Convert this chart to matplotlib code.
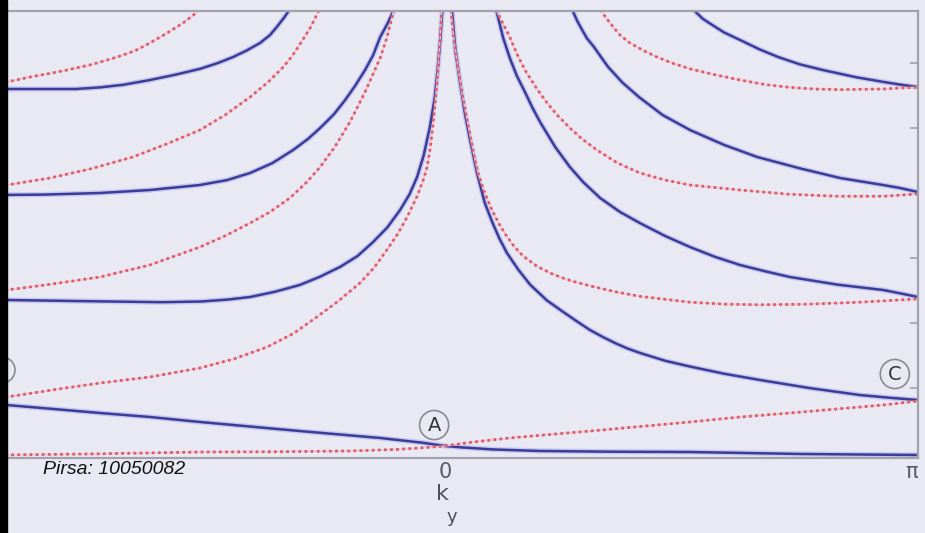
import matplotlib.pyplot as plt
from matplotlib.patches import Rectangle, Circle

# k_y in units of pi, energy in units of the right-hand tick spacing
blue_b0_k = [-0.95, -0.926, -0.729, -0.624, -0.518, -0.307, -0.137, -0.05, 0.0, 0.032, 0.1, 0.201, 0.35, 0.518, 0.751, 1.0]
blue_b0_e = [0.76, 0.738, 0.615, 0.554, 0.477, 0.338, 0.231, 0.16, 0.108, 0.088, 0.055, 0.031, 0.02, 0.015, -0.015, -0.031]

blue_l1_k = [-0.95, -0.85, -0.78, -0.729, -0.68, -0.624, -0.57, -0.518, -0.48, -0.448, -0.42, -0.391, -0.37, -0.355, -0.34, -0.332, -0.323]
blue_l1_e = [5.60, 5.60, 5.60, 5.625, 5.665, 5.738, 5.82, 5.91, 6.0, 6.092, 6.19, 6.308, 6.43, 6.56, 6.70, 6.785, 6.908]

blue_l2_k = [-0.95, -0.85, -0.729, -0.624, -0.518, -0.46, -0.412, -0.365, -0.321, -0.29, -0.264, -0.235, -0.211, -0.19, -0.169, -0.152, -0.137, -0.122, -0.110, -0.104]
blue_l2_e = [3.969, 3.975, 4.0, 4.046, 4.123, 4.20, 4.308, 4.46, 4.662, 4.83, 5.0, 5.21, 5.431, 5.65, 5.892, 6.12, 6.4, 6.6, 6.785, 6.908]

blue_l3_k = [-0.95, -0.926, -0.80, -0.70, -0.60, -0.518, -0.46, -0.412, -0.36, -0.307, -0.265, -0.222, -0.185, -0.152, -0.122, -0.095, -0.075, -0.059, -0.045, -0.032, -0.022, -0.015, -0.010, -0.006, -0.005]
blue_l3_e = [2.36, 2.354, 2.34, 2.33, 2.32, 2.33, 2.36, 2.40, 2.48, 2.585, 2.71, 2.862, 3.03, 3.246, 3.47, 3.738, 3.98, 4.246, 4.58, 5.015, 5.45, 5.938, 6.35, 6.785, 6.908]

blue_r1_k = [0.013, 0.015, 0.022, 0.032, 0.042, 0.053, 0.068, 0.084, 0.10, 0.115, 0.131, 0.155, 0.18, 0.215, 0.25, 0.28, 0.307, 0.335, 0.36, 0.385, 0.412, 0.465, 0.518, 0.59, 0.666, 0.77, 0.877, 0.94, 1.0]
blue_r1_e = [6.908, 6.785, 6.2, 5.69, 5.23, 4.815, 4.3, 3.85, 3.55, 3.3, 3.077, 2.82, 2.59, 2.35, 2.17, 2.02, 1.89, 1.78, 1.69, 1.61, 1.54, 1.42, 1.33, 1.22, 1.123, 1.0, 0.892, 0.85, 0.815]

blue_r2_k = [0.104, 0.110, 0.123, 0.137, 0.152, 0.169, 0.185, 0.201, 0.233, 0.264, 0.292, 0.328, 0.370, 0.412, 0.465, 0.518, 0.57, 0.624, 0.68, 0.729, 0.83, 0.926, 0.96, 1.0]
blue_r2_e = [6.908, 6.769, 6.385, 6.077, 5.8, 5.554, 5.31, 5.092, 4.708, 4.4, 4.169, 3.923, 3.708, 3.538, 3.34, 3.169, 3.02, 2.892, 2.79, 2.708, 2.59, 2.508, 2.46, 2.40]

blue_r3_k = [0.264, 0.271, 0.28, 0.29, 0.30, 0.315, 0.33, 0.345, 0.375, 0.41, 0.46, 0.518, 0.59, 0.66, 0.75, 0.835, 0.926, 0.96, 1.0]
blue_r3_e = [6.908, 6.785, 6.64, 6.508, 6.38, 6.246, 6.09, 5.938, 5.7, 5.477, 5.2, 4.969, 4.74, 4.554, 4.38, 4.231, 4.123, 4.08, 4.015]

blue_r4_k = [0.518, 0.53, 0.545, 0.565, 0.59, 0.625, 0.665, 0.705, 0.75, 0.80, 0.87, 0.926, 0.96, 1.0]
blue_r4_e = [6.908, 6.785, 6.68, 6.585, 6.47, 6.35, 6.21, 6.09, 5.98, 5.89, 5.78, 5.71, 5.67, 5.63]

red_b0_k = [-0.95, -0.751, -0.518, -0.35, -0.201, -0.1, -0.032, 0.0, 0.05, 0.137, 0.307, 0.518, 0.624, 0.729, 0.926, 1.0]
red_b0_e = [-0.031, -0.015, 0.015, 0.02, 0.031, 0.055, 0.088, 0.108, 0.16, 0.231, 0.338, 0.477, 0.554, 0.615, 0.738, 0.80]

red_l1_k = [-0.95, -0.926, -0.877, -0.835, -0.799, -0.745, -0.693, -0.655, -0.624, -0.59, -0.554, -0.535, -0.524, -0.515]
red_l1_e = [5.68, 5.708, 5.785, 5.84, 5.892, 5.98, 6.092, 6.19, 6.308, 6.45, 6.615, 6.72, 6.785, 6.908]

red_l2_k = [-0.95, -0.926, -0.835, -0.75, -0.660, -0.59, -0.518, -0.465, -0.412, -0.375, -0.342, -0.325, -0.311, -0.297, -0.285, -0.268, -0.262]
red_l2_e = [4.09, 4.123, 4.231, 4.37, 4.554, 4.75, 4.969, 5.2, 5.477, 5.70, 5.938, 6.09, 6.24, 6.40, 6.54, 6.785, 6.908]

red_l3_k = [-0.95, -0.926, -0.83, -0.729, -0.624, -0.518, -0.465, -0.412, -0.370, -0.328, -0.292, -0.264, -0.233, -0.201, -0.169, -0.137, -0.123, -0.110, -0.104]
red_l3_e = [2.46, 2.508, 2.60, 2.708, 2.892, 3.169, 3.34, 3.538, 3.708, 3.923, 4.169, 4.4, 4.708, 5.092, 5.554, 6.077, 6.385, 6.769, 6.908]

red_l4_k = [-0.95, -0.926, -0.83, -0.729, -0.624, -0.518, -0.445, -0.376, -0.32, -0.271, -0.225, -0.180, -0.15, -0.123, -0.10, -0.080, -0.059, -0.045, -0.038, -0.031, -0.025, -0.020, -0.015, -0.010, -0.006]
red_l4_e = [0.83, 0.862, 0.97, 1.077, 1.169, 1.308, 1.45, 1.631, 1.84, 2.092, 2.34, 2.615, 2.85, 3.123, 3.37, 3.631, 3.95, 4.22, 4.4, 4.7, 5.077, 5.45, 5.9, 6.4, 6.908]

red_r2_k = [0.010, 0.013, 0.020, 0.028, 0.038, 0.05, 0.06, 0.07, 0.083, 0.098, 0.113, 0.13, 0.147, 0.165, 0.195, 0.225, 0.25, 0.271, 0.307, 0.36, 0.412, 0.518, 0.59, 0.666, 0.77, 0.877, 1.0]
red_r2_e = [6.908, 6.785, 6.3, 5.9, 5.45, 5.0, 4.62, 4.3, 4.02, 3.76, 3.54, 3.34, 3.17, 3.03, 2.87, 2.76, 2.69, 2.64, 2.57, 2.48, 2.41, 2.32, 2.29, 2.28, 2.29, 2.32, 2.37]

red_r3_k = [0.104, 0.110, 0.123, 0.137, 0.152, 0.169, 0.19, 0.211, 0.237, 0.264, 0.29, 0.321, 0.365, 0.412, 0.465, 0.518, 0.624, 0.729, 0.83, 0.926, 1.0]
red_r3_e = [6.908, 6.785, 6.6, 6.4, 6.14, 5.892, 5.65, 5.431, 5.2, 5.0, 4.83, 4.662, 4.46, 4.308, 4.2, 4.123, 4.046, 3.98, 3.95, 3.95, 3.985]

red_r4_k = [0.323, 0.332, 0.34, 0.355, 0.37, 0.391, 0.42, 0.448, 0.48, 0.518, 0.57, 0.624, 0.68, 0.729, 0.78, 0.835, 0.926, 1.0]
red_r4_e = [6.908, 6.785, 6.70, 6.56, 6.43, 6.308, 6.19, 6.092, 6.0, 5.91, 5.82, 5.738, 5.665, 5.625, 5.60, 5.59, 5.60, 5.63]

x_ticks = [0, 1]
x_tick_labels = ["0", "\u03c0"]
y_ticks = [1, 2, 3, 4, 5, 6]

bg = "#e9e9f4"
spine_col = "#a2a2ad"

fig = plt.figure(figsize=(9.25, 5.33), dpi=100)
fig.patch.set_facecolor(bg)
ax = fig.add_axes([7 / 925, 75 / 533, 911 / 925, 447 / 533])
ax.set_facecolor(bg)

blue_curves = [
    (blue_b0_k, blue_b0_e),
    (blue_l1_k, blue_l1_e),
    (blue_l2_k, blue_l2_e),
    (blue_l3_k, blue_l3_e),
    (blue_r1_k, blue_r1_e),
    (blue_r2_k, blue_r2_e),
    (blue_r3_k, blue_r3_e),
    (blue_r4_k, blue_r4_e),
]
red_curves = [
    (red_b0_k, red_b0_e),
    (red_l1_k, red_l1_e),
    (red_l2_k, red_l2_e),
    (red_l3_k, red_l3_e),
    (red_l4_k, red_l4_e),
    (red_r2_k, red_r2_e),
    (red_r3_k, red_r3_e),
    (red_r4_k, red_r4_e),
]

for k, e in blue_curves:
    ax.plot(k, e, color="#c6c8ef", lw=3.8, solid_joinstyle="round")
    ax.plot(k, e, color="#3a3c98", lw=1.8, solid_joinstyle="round")

for k, e in red_curves:
    ax.plot(k, e, color="#f3c2ca", lw=1.1)
    ax.plot(k, e, color="#dc5a6a", lw=2.0, linestyle=(0, (1.0, 1.2)))

ax.set_xlim(-0.926, 1.0)
ax.set_ylim(-0.077, 6.8)

for side in ["top", "right", "bottom"]:
    ax.spines[side].set_color(spine_col)
    ax.spines[side].set_linewidth(1.6)
ax.spines["left"].set_visible(False)

ax.yaxis.tick_right()
ax.set_yticks(y_ticks)
ax.tick_params(axis="y", direction="in", length=6, width=1.2, color=spine_col, labelright=False)
ax.set_xticks(x_ticks, x_tick_labels)
ax.tick_params(axis="x", length=0, pad=3, labelsize=15, labelcolor="#5a5a64")
ax.get_xticklabels()[1].set_horizontalalignment("right")

# circled point labels
circ = dict(boxstyle="circle,pad=0.26", fc="none", ec="#8a8a92", lw=1.2)
ax.text(-0.023, 0.43, "A", fontsize=14, color="#333", ha="center", va="center", bbox=circ)
ax.text(0.951, 1.215, "C", fontsize=14, color="#333", ha="center", va="center", bbox=circ)
fig.patches.append(Circle((0.02, 1.63), 0.13, transform=fig.dpi_scale_trans,
                          fill=False, ec="#8a8a92", lw=1.2))

fig.text(442 / 925, 1 - 494 / 533, "k", fontsize=16, color="#50505a", ha="center", va="center")
fig.text(452 / 925, 1 - 517 / 533, "y", fontsize=13, color="#50505a", ha="center", va="center")
fig.text(43 / 925, 1 - 470 / 533, "Pirsa: 10050082", fontsize=14, style="italic",
         family="Liberation Sans", color="#111", ha="left", va="center")

# dark strip at the left edge of the screenshot
fig.patches.append(Rectangle((0, 0), 7 / 925, 1, transform=fig.transFigure,
                             color="black", zorder=10))

fig.savefig("out.png", dpi=100, facecolor=bg)
